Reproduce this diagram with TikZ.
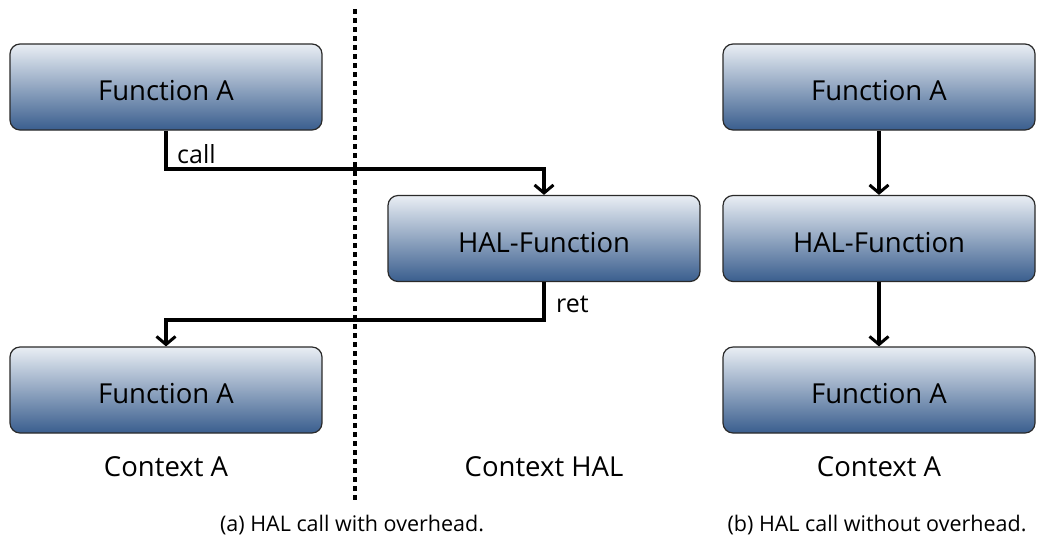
\documentclass[tikz,border=0pt]{standalone}
\usepackage{fontspec}
\setmainfont{Open Sans}
\usetikzlibrary{arrows.meta}
\definecolor{boxtop}{HTML}{E9EEF4}
\definecolor{boxbot}{HTML}{3A5E8E}
\definecolor{boxline}{HTML}{2A2A2A}
\tikzset{
  fbox/.style={draw=boxline, line width=1.2pt, rounded corners=10pt,
    top color=boxtop, bottom color=boxbot,
    minimum width=312pt, minimum height=86pt, inner sep=0pt,
    text height=27pt, text depth=0pt,
    font=\fontsize{27.5}{32}\selectfont},
  flow/.style={line width=3.6pt,
    -{Straight Barb[length=8pt,width=19pt,line width=3pt]}},
  ctx/.style={font=\fontsize{27.5}{32}\selectfont, inner sep=0pt},
  captext/.style={font=\fontsize{21.5}{25}\selectfont, inner sep=0pt},
  lbl/.style={font=\fontsize{25}{29}\selectfont, inner sep=0pt, anchor=base west},
  divider/.style={line width=3.5pt, dash pattern=on 5pt off 4pt}
}
\begin{document}
\begin{tikzpicture}[x=1pt, y=-1pt]
\useasboundingbox (0,0) rectangle (1038,550);

% (a) context switch through the HAL
\node[fbox] (fa1) at (166,87) {Function A};
\node[fbox] (hal1) at (544,238.5) {HAL-Function};
\node[fbox] (fa2) at (166,390) {Function A};

\draw[flow] (fa1.south) |- (354,169) -| (hal1.north);
\draw[flow] (hal1.south) |- (354,320) -| (fa2.north);
\node[lbl] (call) at (177,163) {call};
\node[lbl] (ret) at (556,312) {ret};

\coordinate (divtop) at (355,9);
\coordinate (divbot) at (355,500);
\draw[divider] (divtop) -- (divbot);

\node[ctx] (ctxa1) at (166,467) {Context A};
\node[ctx] (ctxh) at (544,467) {Context HAL};
\node[captext] (capa) at (352,525) {(a) HAL call with overhead.};

% (b) direct call without overhead
\node[fbox] (fb1) at (879,87) {Function A};
\node[fbox] (hal2) at (879,238.5) {HAL-Function};
\node[fbox] (fb2) at (879,390) {Function A};
\draw[flow] (fb1) -- (hal2);
\draw[flow] (hal2) -- (fb2);

\node[ctx] (ctxa2) at (879,467) {Context A};
\node[captext] (capb) at (877,525) {(b) HAL call without overhead.};
\end{tikzpicture}
\end{document}
